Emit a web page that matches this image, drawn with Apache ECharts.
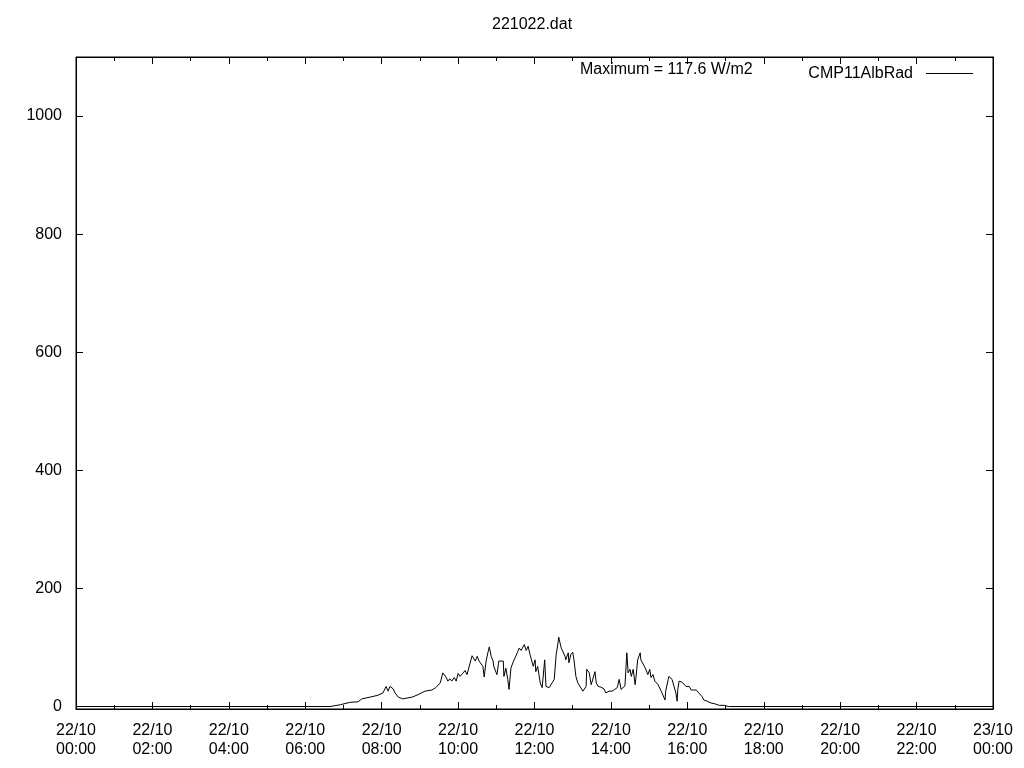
<!DOCTYPE html>
<html><head><meta charset="utf-8">
<script src="https://cdn.jsdelivr.net/npm/echarts@6/dist/echarts.min.js"></script>
<style>html,body{margin:0;background:#fff}#c{width:1024px;height:768px}</style>
</head><body><div id="c"></div>
<script>
const chartTitle = '221022.dat';
const maxNote = 'Maximum = 117.6 W/m2';
const seriesName = 'CMP11AlbRad';
const dayLabel = '22/10';
const nextDayLabel = '23/10';
const yTicks = [0, 200, 400, 600, 800, 1000];
const times = [
 "00:00","06:23","06:39","06:55","07:10","07:23","07:29","07:42","07:54","08:02",
 "08:07","08:10","08:13","08:18","08:21","08:26","08:33","08:48","08:57","09:08",
 "09:19","09:25","09:32","09:36","09:41","09:44","09:47","09:50","09:54","09:57",
 "10:00","10:03","10:08","10:11","10:14","10:17","10:22","10:25","10:27","10:30",
 "10:33","10:36","10:39","10:41","10:44","10:47","10:49","10:52","10:55","10:56",
 "11:01","11:04","11:07","11:11","11:12","11:15","11:18","11:20","11:23","11:26",
 "11:29","11:33","11:36","11:39","11:44","11:47","11:50","11:53","11:58","12:01",
 "12:02","12:05","12:09","12:12","12:16","12:18","12:23","12:26","12:31","12:34",
 "12:37","12:38","12:42","12:45","12:48","12:49","12:53","12:54","12:57","13:00",
 "13:02","13:05","13:08","13:11","13:16","13:19","13:21","13:22","13:26","13:29",
 "13:35","13:37","13:40","13:44","13:49","13:52","13:57","14:02","14:06","14:10",
 "14:13","14:16","14:19","14:22","14:25","14:27","14:30","14:32","14:35","14:38",
 "14:39","14:42","14:46","14:47","14:50","14:54","14:55","14:58","15:01","15:03",
 "15:06","15:09","15:11","15:14","15:17","15:19","15:22","15:25","15:26","15:30",
 "15:31","15:34","15:36","15:39","15:42","15:44","15:45","15:47","15:50","15:52",
 "15:55","15:58","15:59","16:03","16:06","16:07","16:10","16:14","16:15","16:18",
 "16:21","16:23","16:26","16:29","16:31","16:37","16:42","16:50","16:58","17:05",
 "24:00"
];
const values = [
 0,0,0,3,7,8,13,16,19,23,
 34,26,34,30,23,16,13,16,20,26,
 28,32,40,57,50,43,47,43,49,43,
 56,51,57,61,54,51,86,83,77,85,
 77,74,68,50,77,92,101,85,77,68,
 54,77,78,77,51,65,46,29,65,74,
 75,91,99,95,105,95,102,88,68,79,
 59,68,40,32,79,34,32,32,46,88,
 108,117.6,99,102,85,79,91,74,88,92,
 79,51,40,40,26,23,34,63,57,37,
 59,40,34,33,30,23,26,26,29,32,
 46,29,32,35,91,57,63,51,63,37,
 46,79,91,79,77,65,68,54,63,49,
 54,43,46,37,40,26,23,11,26,46,
 51,49,46,43,23,9,29,43,44,41,
 40,34,32,34,28,29,28,28,25,23,
 23,17,11,14,9,6,5,2,2,0,
 0
];

const toHours = s => { const p = s.split(':'); return +p[0] + (+p[1]) / 60; };
const data = times.map((t, i) => [toHours(t), values[i]]);

const font = "'Liberation Sans', Arial, sans-serif";
const black = '#000';
const pad = n => (n < 10 ? '0' : '') + n;
const xLabel = v => (v >= 24 ? nextDayLabel + '\n' + pad(v - 24) + ':00' : dayLabel + '\n' + pad(v) + ':00');

const xBase = (pos, showLabel) => ({
  type: 'value', min: 0, max: 24, interval: 2, position: pos,
  axisLine: { show: true, onZero: false, lineStyle: { color: black, width: 1 } },
  axisTick: { show: true, inside: true, length: 7, lineStyle: { color: black } },
  minorTick: { show: true, splitNumber: 2, length: 4, lineStyle: { color: black } },
  splitLine: { show: false }, minorSplitLine: { show: false },
  axisLabel: { show: showLabel, formatter: xLabel, fontSize: 16, color: black, fontFamily: font, lineHeight: 18.5, margin: 12.5 }
});
const yBase = (pos, showLabel) => ({
  type: 'value', min: -4.2, max: 1100, position: pos,
  axisLine: { show: true, onZero: false, lineStyle: { color: black, width: 1 } },
  axisTick: { show: true, inside: true, length: 7, customValues: yTicks, lineStyle: { color: black } },
  splitLine: { show: false },
  axisLabel: { show: showLabel, customValues: yTicks, formatter: v => String(v), fontSize: 16, color: black, fontFamily: font, margin: 14 }
});

const chart = echarts.init(document.getElementById('c'), null, { renderer: 'canvas' });
chart.setOption({
  animation: false,
  backgroundColor: '#fff',
  title: [
    { text: chartTitle, left: 492, top: 17, padding: 0, textStyle: { fontSize: 16, fontWeight: 'normal', color: black, fontFamily: font } },
    { text: maxNote, left: 580, top: 62, padding: 0, textStyle: { fontSize: 16, fontWeight: 'normal', color: black, fontFamily: font } }
  ],
  legend: {
    data: [{ name: seriesName, icon: 'rect' }], right: 51, top: 65.5, padding: 0, align: 'right',
    itemWidth: 47, itemHeight: 1,
    itemStyle: { color: black, borderWidth: 0 },
    textStyle: { fontSize: 16, color: black, fontFamily: font, padding: [0, 8, 0, 0] }
  },
  grid: { left: 76, right: 31, top: 57, bottom: 59, show: true, borderColor: black, borderWidth: 1, containLabel: false },
  xAxis: [xBase('bottom', true), xBase('top', false)],
  yAxis: [yBase('left', true), yBase('right', false)],
  series: [{
    name: seriesName, type: 'line', data: data, xAxisIndex: 0, yAxisIndex: 0,
    symbol: 'none', showSymbol: false,
    lineStyle: { color: black, width: 1 }, itemStyle: { color: black }
  }]
});
</script>
</body></html>
